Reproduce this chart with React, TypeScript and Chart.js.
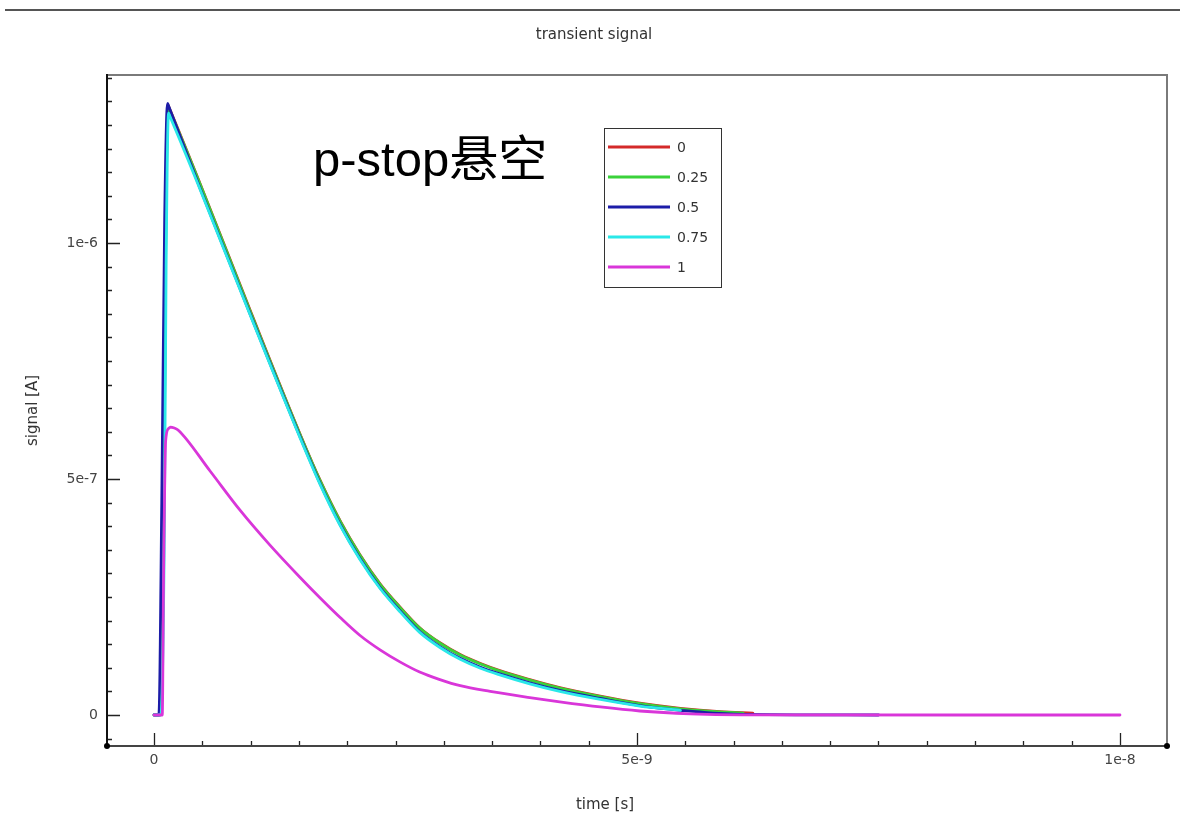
import { useEffect, useRef } from 'react';
import { Chart, registerables } from 'chart.js';

Chart.register(...registerables);

// ---- data ----
const SERIES_LABELS = ['0', '0.25', '0.5', '0.75', '1'];
const SERIES_COLORS = ['#d42a2a', '#3ad23a', '#1c1ca8', '#2ae8e8', '#d936d9'];

// time [s]
const TIME_0 = [0, 0.06e-9, 0.1e-9, 0.12e-9, 0.145e-9, 0.16e-9, 0.48e-9, 0.99e-9, 1.51e-9, 1.72e-9, 1.93e-9, 2.13e-9, 2.34e-9, 2.55e-9, 2.75e-9, 2.96e-9, 3.17e-9, 3.38e-9, 3.58e-9, 3.89e-9, 4.2e-9, 4.62e-9, 5.03e-9, 5.45e-9, 5.86e-9, 6.2e-9];
// signal [A]
const SIGNAL_0 = [0, 0, 4.0e-7, 10.0e-7, 12.92e-7, 12.85e-7, 11.24e-7, 8.6e-7, 5.96e-7, 4.97e-7, 4.1e-7, 3.4e-7, 2.78e-7, 2.28e-7, 1.85e-7, 1.53e-7, 1.28e-7, 1.09e-7, 0.94e-7, 0.75e-7, 0.58e-7, 0.4e-7, 0.25e-7, 0.14e-7, 0.07e-7, 0.04e-7];

const TIME_025 = [0, 0.06e-9, 0.1e-9, 0.12e-9, 0.145e-9, 0.16e-9, 0.48e-9, 0.99e-9, 1.51e-9, 1.72e-9, 1.93e-9, 2.13e-9, 2.34e-9, 2.55e-9, 2.75e-9, 2.96e-9, 3.17e-9, 3.38e-9, 3.58e-9, 3.89e-9, 4.2e-9, 4.62e-9, 5.03e-9, 5.45e-9, 5.86e-9, 6.1e-9];
const SIGNAL_025 = [0, 0, 3.8e-7, 9.8e-7, 12.9e-7, 12.83e-7, 11.23e-7, 8.58e-7, 5.95e-7, 4.96e-7, 4.09e-7, 3.39e-7, 2.77e-7, 2.27e-7, 1.84e-7, 1.52e-7, 1.27e-7, 1.08e-7, 0.93e-7, 0.74e-7, 0.57e-7, 0.39e-7, 0.24e-7, 0.13e-7, 0.065e-7, 0.04e-7];

const TIME_05 = [0, 0.05e-9, 0.08e-9, 0.11e-9, 0.14e-9, 0.155e-9, 0.48e-9, 0.99e-9, 1.51e-9, 1.72e-9, 1.93e-9, 2.13e-9, 2.34e-9, 2.55e-9, 2.75e-9, 2.96e-9, 3.17e-9, 3.38e-9, 3.58e-9, 3.89e-9, 4.2e-9, 4.62e-9, 5.03e-9, 5.45e-9, 6.0e-9, 7.5e-9];
const SIGNAL_05 = [0, 0, 4.5e-7, 10.5e-7, 12.96e-7, 12.88e-7, 11.14e-7, 8.52e-7, 5.9e-7, 4.9e-7, 4.02e-7, 3.32e-7, 2.7e-7, 2.2e-7, 1.77e-7, 1.45e-7, 1.2e-7, 1.01e-7, 0.87e-7, 0.68e-7, 0.52e-7, 0.35e-7, 0.2e-7, 0.1e-7, 0.02e-7, 0];

const TIME_075 = [0, 0.07e-9, 0.105e-9, 0.125e-9, 0.15e-9, 0.165e-9, 0.48e-9, 0.99e-9, 1.51e-9, 1.72e-9, 1.93e-9, 2.13e-9, 2.34e-9, 2.55e-9, 2.75e-9, 2.96e-9, 3.17e-9, 3.38e-9, 3.58e-9, 3.89e-9, 4.2e-9, 4.62e-9, 5.03e-9, 5.45e-9];
const SIGNAL_075 = [0, 0, 3.5e-7, 9.5e-7, 12.75e-7, 12.68e-7, 11.12e-7, 8.5e-7, 5.88e-7, 4.88e-7, 4.0e-7, 3.3e-7, 2.68e-7, 2.18e-7, 1.75e-7, 1.43e-7, 1.18e-7, 0.99e-7, 0.85e-7, 0.66e-7, 0.5e-7, 0.33e-7, 0.19e-7, 0.1e-7];

const TIME_1 = [0, 0.085e-9, 0.1e-9, 0.12e-9, 0.15e-9, 0.17e-9, 0.21e-9, 0.248e-9, 0.58e-9, 0.89e-9, 1.2e-9, 1.51e-9, 1.72e-9, 1.93e-9, 2.13e-9, 2.34e-9, 2.55e-9, 2.75e-9, 2.96e-9, 3.17e-9, 3.48e-9, 3.89e-9, 4.2e-9, 4.62e-9, 5.03e-9, 5.55e-9, 6.07e-9, 1e-8];
const SIGNAL_1 = [0, 0, 3.2e-7, 5.8e-7, 6.07e-7, 6.1e-7, 6.08e-7, 6.04e-7, 5.17e-7, 4.34e-7, 3.6e-7, 2.92e-7, 2.48e-7, 2.06e-7, 1.69e-7, 1.38e-7, 1.12e-7, 0.91e-7, 0.75e-7, 0.62e-7, 0.5e-7, 0.37e-7, 0.28e-7, 0.17e-7, 0.085e-7, 0.025e-7, 0.003e-7, 0];

const SERIES_TIMES = [TIME_0, TIME_025, TIME_05, TIME_075, TIME_1];
const SERIES_VALUES = [SIGNAL_0, SIGNAL_025, SIGNAL_05, SIGNAL_075, SIGNAL_1];

const X_TICK_VALUES = [0, 5e-9, 1e-8];
const X_TICK_LABELS = ['0', '5e-9', '1e-8'];
const Y_TICK_VALUES = [0, 5e-7, 1e-6];
const Y_TICK_LABELS = ['0', '5e-7', '1e-6'];

const X_MIN = -0.487e-9;
const X_MAX = 1.0487e-8;
const X_MINOR_STEP = 5e-10;
const Y_MIN = -0.657e-7;
const Y_MAX = 13.56e-7;
const Y_MINOR_STEP = 5e-8;

const TITLE = 'transient signal';
const X_TITLE = 'time [s]';
const Y_TITLE = 'signal [A]';
const ANNOTATION = 'p-stop悬空';

const FONT = '"DejaVu Sans", "Liberation Sans", sans-serif';

function majorIndex(values: number[], v: number, tol: number) {
  for (let i = 0; i < values.length; i++) {
    if (Math.abs(values[i] - v) < tol) return i;
  }
  return -1;
}

const overlayPlugin = {
  id: 'overlay',
  beforeDatasetsDraw(chart: any) {
    const { ctx, chartArea: a, scales } = chart;
    const xs = scales.x;
    const ys = scales.y;
    ctx.save();
    // frame top and right
    ctx.lineWidth = 2;
    ctx.strokeStyle = '#7a7a7a';
    ctx.beginPath();
    ctx.moveTo(a.left, a.top);
    ctx.lineTo(a.right, a.top);
    ctx.lineTo(a.right, a.bottom);
    ctx.stroke();

    // ticks (inward)
    ctx.strokeStyle = '#222';
    ctx.lineWidth = 1.3;
    ctx.beginPath();
    for (const t of ys.ticks) {
      const py = Math.round(ys.getPixelForValue(t.value)) + 0.5;
      if (py < a.top + 2 || py > a.bottom - 2) continue;
      const len = majorIndex(Y_TICK_VALUES, t.value, 1e-12) >= 0 ? 13 : 5;
      ctx.moveTo(a.left, py);
      ctx.lineTo(a.left + len, py);
    }
    for (const t of xs.ticks) {
      const px = Math.round(xs.getPixelForValue(t.value)) + 0.5;
      if (px < a.left + 2 || px > a.right - 2) continue;
      const len = majorIndex(X_TICK_VALUES, t.value, 1e-15) >= 0 ? 13 : 5;
      ctx.moveTo(px, a.bottom);
      ctx.lineTo(px, a.bottom - len);
    }
    ctx.stroke();

    // axes
    ctx.lineWidth = 2;
    ctx.strokeStyle = '#111';
    ctx.beginPath();
    ctx.moveTo(a.left, a.bottom);
    ctx.lineTo(a.left, a.top - 1);
    ctx.stroke();
    ctx.strokeStyle = '#444';
    ctx.beginPath();
    ctx.moveTo(a.left, a.bottom);
    ctx.lineTo(a.right, a.bottom);
    ctx.stroke();
    ctx.fillStyle = '#000';
    for (const px of [a.left, a.right]) {
      ctx.beginPath();
      ctx.arc(px, a.bottom, 3, 0, Math.PI * 2);
      ctx.fill();
    }
    ctx.restore();
  },
  afterDraw(chart: any) {
    const { ctx, chartArea: a } = chart;
    ctx.save();
    // top rule
    ctx.strokeStyle = '#555';
    ctx.lineWidth = 2;
    ctx.beginPath();
    ctx.moveTo(5, 10);
    ctx.lineTo(1180, 10);
    ctx.stroke();

    // title
    ctx.fillStyle = '#333';
    ctx.font = `15px ${FONT}`;
    ctx.textAlign = 'center';
    ctx.textBaseline = 'middle';
    ctx.fillText(TITLE, 594, 35);
    // x title
    ctx.fillText(X_TITLE, 605, 805);
    // y title
    ctx.save();
    ctx.translate(33, (a.top + a.bottom) / 2);
    ctx.rotate(-Math.PI / 2);
    ctx.fillText(Y_TITLE, 0, 0);
    ctx.restore();

    // annotation
    ctx.fillStyle = '#000';
    ctx.textAlign = 'left';
    ctx.textBaseline = 'alphabetic';
    ctx.font = '49px "Liberation Sans", "Noto Sans CJK SC", sans-serif';
    ctx.fillText(ANNOTATION, 313, 176);

    // legend
    const bx = 604.5, by = 128.5, bw = 117, bh = 159;
    ctx.fillStyle = '#fff';
    ctx.fillRect(bx, by, bw, bh);
    ctx.strokeStyle = '#333';
    ctx.lineWidth = 1;
    ctx.strokeRect(bx, by, bw, bh);
    ctx.font = `14px ${FONT}`;
    ctx.textBaseline = 'middle';
    SERIES_LABELS.forEach((lab, i) => {
      const yy = 147 + i * 30;
      ctx.strokeStyle = SERIES_COLORS[i];
      ctx.lineWidth = 3.2;
      ctx.beginPath();
      ctx.moveTo(608, yy);
      ctx.lineTo(670, yy);
      ctx.stroke();
      ctx.fillStyle = '#333';
      ctx.fillText(lab, 677, yy + 1);
    });
    ctx.restore();
  },
};

export default function App() {
  const ref = useRef<HTMLCanvasElement>(null);
  useEffect(() => {
    const datasets = SERIES_LABELS.map((lab, i) => ({
      label: lab,
      data: SERIES_TIMES[i].map((t, j) => ({ x: t, y: SERIES_VALUES[i][j] })),
      borderColor: SERIES_COLORS[i],
      backgroundColor: SERIES_COLORS[i],
      borderWidth: 2.8,
      pointRadius: 0,
      fill: false,
      cubicInterpolationMode: 'monotone' as const,
      borderJoinStyle: 'round' as const,
      borderCapStyle: 'round' as const,
      order: 5 - i,
    }));
    const chart = new Chart(ref.current!, {
      type: 'line',
      data: { datasets },
      options: {
        animation: false,
        responsive: false,
        devicePixelRatio: 1,
        layout: { padding: { top: 75, right: 13, left: 0, bottom: 0 } },
        plugins: {
          legend: { display: false },
          tooltip: { enabled: false },
          title: { display: false },
        },
        scales: {
          x: {
            type: 'linear',
            min: X_MIN,
            max: X_MAX,
            afterFit: (s: any) => {
              s.height = 70;
            },
            grid: { display: false, drawTicks: false },
            border: { display: false },
            ticks: {
              stepSize: X_MINOR_STEP,
              autoSkip: false,
              includeBounds: false,
              maxRotation: 0,
              padding: 6,
              color: '#444',
              font: { family: FONT, size: 14 },
              callback: (v: any) => {
                const k = majorIndex(X_TICK_VALUES, Number(v), 1e-15);
                return k >= 0 ? X_TICK_LABELS[k] : '';
              },
            },
          },
          y: {
            type: 'linear',
            min: Y_MIN,
            max: Y_MAX,
            afterFit: (s: any) => {
              s.width = 107;
            },
            grid: { display: false, drawTicks: false },
            border: { display: false },
            ticks: {
              stepSize: Y_MINOR_STEP,
              autoSkip: false,
              includeBounds: false,
              padding: 9,
              color: '#444',
              font: { family: FONT, size: 14 },
              callback: (v: any) => {
                const k = majorIndex(Y_TICK_VALUES, Number(v), 1e-12);
                return k >= 0 ? Y_TICK_LABELS[k] : '';
              },
            },
          },
        },
      },
      plugins: [overlayPlugin],
    });
    return () => chart.destroy();
  }, []);
  return (
    <div style={{ position: 'fixed', left: 0, top: 0, width: 1180, height: 816, background: '#fff' }}>
      <canvas ref={ref} width={1180} height={816} style={{ display: 'block', width: 1180, height: 816 }} />
    </div>
  );
}
